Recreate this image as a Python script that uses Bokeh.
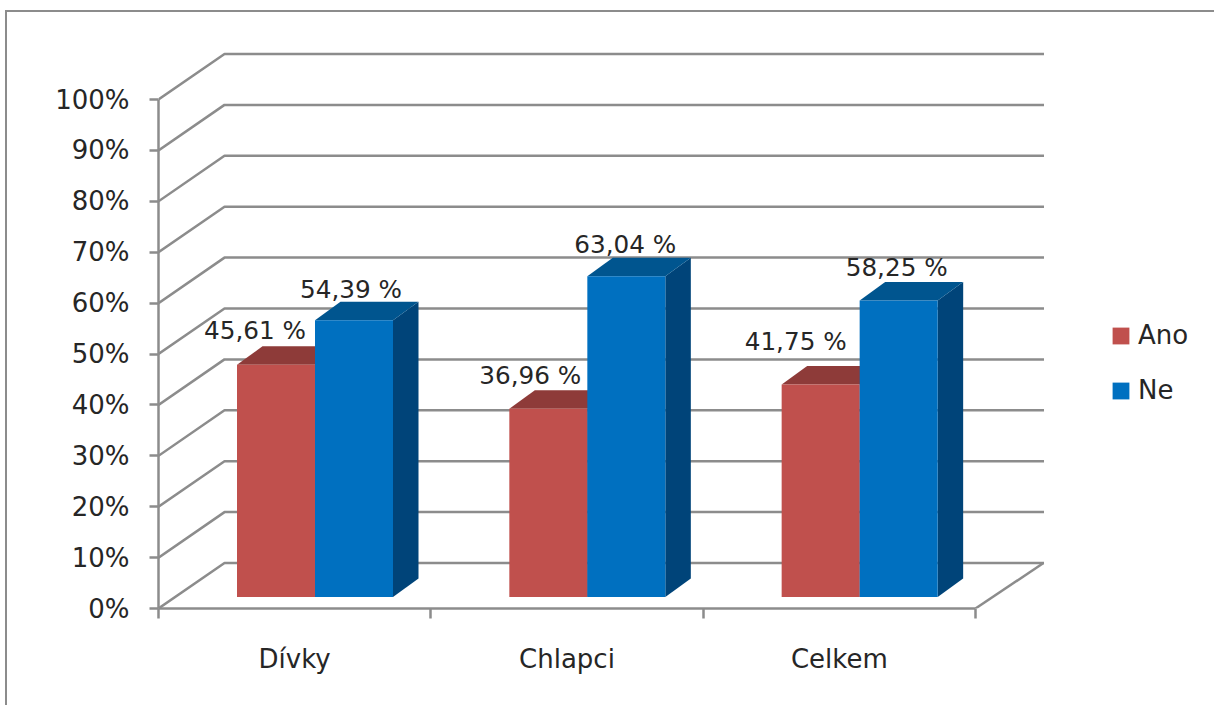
from bokeh.plotting import figure
from bokeh.embed import file_html
from bokeh.resources import INLINE
from bokeh.core.properties import value
from bokeh.models import (ColumnDataSource, FixedTicker, InlineStyleSheet, Legend, LegendItem,
                          LinearAxis, Range1d)

categories = ["Dívky", "Chlapci", "Celkem"]
ano = [45.61, 36.96, 41.75]
ne = [54.39, 63.04, 58.25]
series_names = ["Ano", "Ne"]
percent_ticks = [0, 10, 20, 30, 40, 50, 60, 70, 80, 90, 100]

FONT = "DejaVu Sans"
GRID = "#8c8c8c"
W, H = 1214, 705
AX_X, AX_Y = 158, 608
PX_CAT = 272.33
PX_PCT = 5.09

def cx(px): return px / PX_CAT
def cy(px): return px / PX_PCT

# outer chart frame, only its left and top sides are inside the picture
frame_css = InlineStyleSheet(css=""":host::after {
  content: ""; position: absolute; left: 5px; top: 10px; right: 0; bottom: 0;
  border-left: 2.5px solid #8c8c8c; border-top: 2.5px solid #8c8c8c;
  pointer-events: none; }""")

p = figure(width=W, height=H, output_backend="svg", toolbar_location=None,
           x_axis_type=None, y_axis_type=None,
           x_range=Range1d(0, (W - AX_X) / PX_CAT),
           y_range=Range1d(0, AX_Y / PX_PCT),
           min_border_left=AX_X, min_border_bottom=H - AX_Y,
           min_border_top=0, min_border_right=0,
           stylesheets=[frame_css])
p.grid.visible = False
p.outline_line_color = None
p.background_fill_color = "white"
p.border_fill_color = "white"

# axes
yaxis = LinearAxis(ticker=FixedTicker(ticks=percent_ticks), bounds=(0, 100),
                   major_label_overrides={t: f"{t}%" for t in percent_ticks})
yaxis.axis_line_color = GRID
yaxis.axis_line_width = 2.5
yaxis.major_tick_line_color = GRID
yaxis.major_tick_line_width = 2.5
yaxis.major_tick_in = 0
yaxis.major_tick_out = 9
yaxis.minor_tick_line_color = None
yaxis.major_label_text_font = FONT
yaxis.major_label_text_font_size = "26px"
yaxis.major_label_text_color = "#262626"
yaxis.major_label_standoff = 20
p.add_layout(yaxis, "left")

centres = [i + 0.5 for i in range(len(categories))]
edges = list(range(len(categories) + 1))
xaxis = LinearAxis(ticker=FixedTicker(ticks=centres, minor_ticks=edges), bounds=(0, 3),
                   major_label_overrides=dict(zip(centres, categories)))
xaxis.axis_line_color = GRID
xaxis.axis_line_width = 2.5
xaxis.major_tick_line_color = None
xaxis.major_tick_in = 0
xaxis.major_tick_out = 0
xaxis.minor_tick_line_color = GRID
xaxis.minor_tick_line_width = 2.5
xaxis.minor_tick_in = 0
xaxis.minor_tick_out = 10
xaxis.major_label_text_font = FONT
xaxis.major_label_text_font_size = "26px"
xaxis.major_label_text_color = "#262626"
xaxis.major_label_standoff = 25
p.add_layout(xaxis, "below")

# 3D walls: gridlines run from the front edge back, then along the back wall
WALL_DX, WALL_DY = cx(66), cy(45.5)
WALL_END = cx(1043.5 - AX_X)
p.multi_line(xs=[[0, WALL_DX, WALL_END] for _ in percent_ticks],
             ys=[[t, t + WALL_DY, t + WALL_DY] for t in percent_ticks],
             line_color=GRID, line_width=2.5)
p.line(x=[3, 3 + cx(68)], y=[0, WALL_DY], line_color=GRID, line_width=2.5)

# 3D bars
BAR_LEFT = cx(78.5)
BAR_W = cx(78)
BASE = cy(11.5)
DX, DY = cx(25.5), cy(18.5)

def bar_parts(values, shift):
    fx, fy, tx, ty, sx, sy = [], [], [], [], [], []
    for i, v in enumerate(values):
        l = i + BAR_LEFT + shift * BAR_W
        r = l + BAR_W
        t = BASE + v
        fx.append([l, r, r, l]); fy.append([BASE, BASE, t, t])
        tx.append([l, r, r + DX, l + DX]); ty.append([t, t, t + DY, t + DY])
        sx.append([r, r + DX, r + DX, r]); sy.append([BASE, BASE + DY, t + DY, t])
    return fx, fy, tx, ty, sx, sy

styles = [("#C0504D", "#8E3B39", "#7E3331"), ("#0070C0", "#00558F", "#004479")]
front_renderers = []
for shift, (vals, (c_front, c_top, c_side)) in enumerate(zip([ano, ne], styles)):
    fx, fy, tx, ty, sx, sy = bar_parts(vals, shift)
    p.patches(sx, sy, fill_color=c_side, line_color=None)
    p.patches(tx, ty, fill_color=c_top, line_color=None)
    front_renderers.append(p.patches(fx, fy, fill_color=c_front, line_color=None))

# data labels
label_dx = [[-21, -18, -25], [-3, -1, -2]]
label_dy = [[-34, -33, -43], [-31, -32, -33]]
for shift, vals in enumerate([ano, ne]):
    src = ColumnDataSource(dict(
        x=[i + BAR_LEFT + (shift + 0.5) * BAR_W for i in range(len(vals))],
        y=[BASE + v for v in vals],
        t=[f"{v:.2f} %".replace(".", ",") for v in vals],
        dx=label_dx[shift], dy=label_dy[shift]))
    p.text(x="x", y="y", text="t", source=src, x_offset="dx", y_offset="dy",
           text_align="center", text_baseline="middle",
           text_font=value(FONT), text_font_size="24.7px", text_color="#262626")

# legend
legend = Legend(items=[LegendItem(label=n, renderers=[r]) for n, r in zip(series_names, front_renderers)],
                location=(952, 203), orientation="vertical",
                background_fill_alpha=0, border_line_color=None,
                glyph_width=21, glyph_height=21, label_height=21,
                label_standoff=7, spacing=25, margin=0, padding=0,
                label_text_font=FONT, label_text_font_size="26px",
                label_text_color="#262626")
p.add_layout(legend, "center")

open("out.html", "w").write(file_html(p, INLINE))
